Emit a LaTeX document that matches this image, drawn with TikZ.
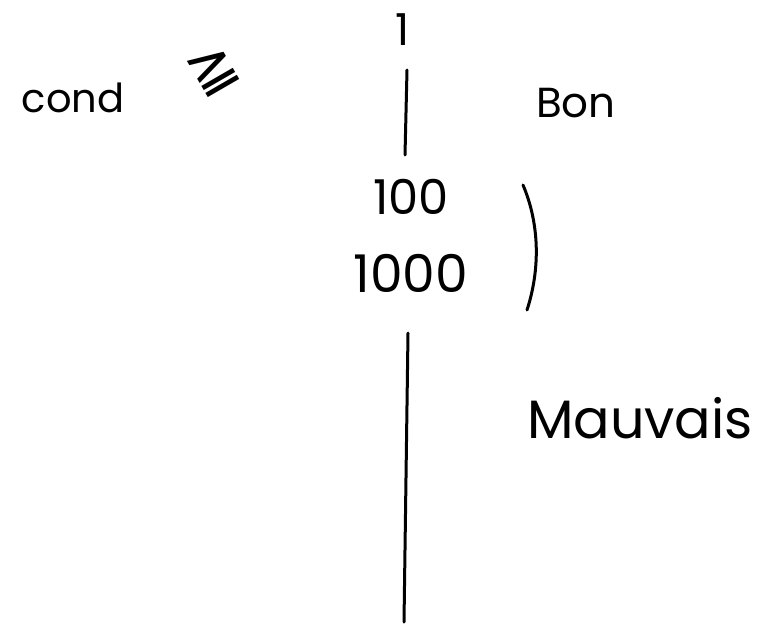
\documentclass[tikz,border=0pt]{standalone}
\usepackage{fontspec}
\setmainfont{Poppins}
\newfontfamily\symfont{DejaVu Sans}
\begin{document}
\begin{tikzpicture}[x=1pt,y=-1pt,
  lbl/.style={inner sep=0pt,anchor=center},
  stroke/.style={line width=3pt,line cap=round,black}]
\useasboundingbox[fill=white] (0,0) rectangle (763,627);
\node[lbl,font=\fontsize{40}{40}\selectfont] (cond) at (73,98) {cond};
\node[lbl,font=\symfont\fontsize{58}{58}\selectfont,rotate=30] (geq) at (213,70) {≧};
\node[lbl,font=\fontsize{44}{44}\selectfont] (one) at (403,30) {1};
\node[lbl,font=\fontsize{42}{42}\selectfont] (bon) at (576,103) {Bon};
\node[lbl,font=\fontsize{48}{48}\selectfont] (c100) at (411,197) {100};
\node[lbl,font=\fontsize{52}{52}\selectfont] (c1000) at (411,273) {1000};
\node[lbl,font=\fontsize{54}{54}\selectfont] (mauv) at (640,418) {Mauvais};
\coordinate (t1) at (407,70);
\coordinate (t2) at (405,155);
\coordinate (b1) at (408,333);
\coordinate (b2) at (404,622);
\coordinate (p1) at (523,185);
\coordinate (p2) at (527,310);
\draw[stroke] (t1) -- (t2);
\draw[stroke] (b1) -- (b2);
\draw[stroke] (p1) .. controls (540,225) and (540,270) .. (p2);
\end{tikzpicture}
\end{document}
